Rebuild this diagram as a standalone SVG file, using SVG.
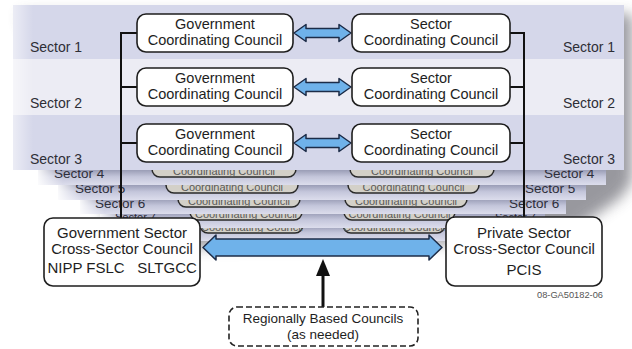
<svg xmlns="http://www.w3.org/2000/svg" width="632" height="349" viewBox="0 0 632 349">
<defs>
<style>
text{font-family:"Liberation Sans",Arial,sans-serif}
.sec{font-size:14px;fill:#2e2e36}
.sec2{font-size:13.5px;fill:#2e2e3a}
.sec7{font-size:11px;fill:#2e2e3a}
.bx{fill:#fff;stroke:#1e1e1e;stroke-width:1.6}
.hb{fill:#d3d0c8;stroke:#2a2a2a;stroke-width:1.5}
.bt{font-size:14.5px;fill:#1e1e1e;text-anchor:middle}
.rt{font-size:13.5px;fill:#1e1e1e;text-anchor:middle}
.ht{font-size:11px;fill:#5a5a5a;text-anchor:middle}
.big{font-size:15px;fill:#1e1e1e;text-anchor:middle}
.arr{fill:#6fb2ea;stroke:#1c2c48;stroke-width:1.5;stroke-linejoin:round}
.ln{fill:none;stroke:#111;stroke-width:2}
.sheet{fill:#d2d4e8}
</style>
<linearGradient id="strip" x1="0" y1="0" x2="0" y2="1">
<stop offset="0" stop-color="#9a9db6"/>
<stop offset="0.45" stop-color="#c4c6db"/>
<stop offset="1" stop-color="#dcddec"/>
</linearGradient>
<linearGradient id="lfade" x1="0" y1="0" x2="1" y2="0">
<stop offset="0" stop-color="#fff" stop-opacity="0.9"/>
<stop offset="1" stop-color="#fff" stop-opacity="0"/>
</linearGradient>
<filter id="blur" x="-20%" y="-20%" width="140%" height="140%"><feGaussianBlur stdDeviation="7"/></filter>
</defs>
<rect width="632" height="349" fill="#fff"/>
<g id="shadow">
<path d="M20,14 L632,14 L632,182 L620,198 L600,212 L580,226 L558,242 L120,248 Z" fill="#55555e" opacity="0.6" filter="url(#blur)"/>
</g>
<g id="stack">
<g id="sheet8">
<rect class="sheet" x="118" y="75" width="407" height="166"/>
<rect x="118" y="226" width="407" height="15" fill="url(#strip)"/>
<rect class="hb" x="200" y="195" width="103" height="38" rx="8"/>
<text class="ht" x="252" y="231">Coordinating Council</text>
<rect class="hb" x="343" y="195" width="102" height="38" rx="8"/>
<text class="ht" x="394" y="231">Coordinating Council</text>
</g>
<g id="sheet7">
<rect class="sheet" x="100" y="61" width="445" height="167"/>
<rect x="100" y="213" width="445" height="15" fill="url(#strip)"/>
<rect x="100" y="61" width="25" height="167" fill="url(#lfade)"/>
<text class="sec7" x="115" y="221">Sector 7</text>
<text class="sec7" x="495" y="221">Sector 7</text>
<rect class="hb" x="190" y="182" width="112" height="38" rx="8"/>
<text class="ht" x="246" y="218">Coordinating Council</text>
<rect class="hb" x="344" y="182" width="111" height="38" rx="8"/>
<text class="ht" x="399.5" y="218">Coordinating Council</text>
</g>
<g id="sheet6">
<rect class="sheet" x="80" y="47" width="486" height="167"/>
<rect x="80" y="199" width="486" height="15" fill="url(#strip)"/>
<rect x="80" y="47" width="25" height="167" fill="url(#lfade)"/>
<text class="sec2" x="95" y="207.5">Sector 6</text>
<text class="sec2" x="509" y="207.5">Sector 6</text>
<rect class="hb" x="178" y="169" width="122" height="38" rx="8"/>
<text class="ht" x="239" y="205">Coordinating Council</text>
<rect class="hb" x="345" y="169" width="122" height="38" rx="8"/>
<text class="ht" x="406" y="205">Coordinating Council</text>
</g>
<g id="sheet5">
<rect class="sheet" x="58" y="33" width="528" height="167"/>
<rect x="58" y="185" width="528" height="15" fill="url(#strip)"/>
<rect x="58" y="33" width="25" height="167" fill="url(#lfade)"/>
<text class="sec2" x="75" y="193">Sector 5</text>
<text class="sec2" x="525" y="193">Sector 5</text>
<rect class="hb" x="166" y="155" width="132" height="38" rx="8"/>
<text class="ht" x="232" y="191">Coordinating Council</text>
<rect class="hb" x="348" y="155" width="131" height="38" rx="8"/>
<text class="ht" x="413.5" y="191">Coordinating Council</text>
</g>
<g id="sheet4">
<rect class="sheet" x="38" y="19" width="568" height="166"/>
<rect x="38" y="170" width="568" height="15" fill="url(#strip)"/>
<rect x="38" y="19" width="25" height="166" fill="url(#lfade)"/>
<text class="sec2" x="54" y="178">Sector 4</text>
<text class="sec2" x="544" y="178">Sector 4</text>
<rect class="hb" x="152" y="139" width="144" height="38" rx="8"/>
<text class="ht" x="224" y="175">Coordinating Council</text>
<rect class="hb" x="350" y="139" width="144" height="38" rx="8"/>
<text class="ht" x="422" y="175">Coordinating Council</text>
</g>
<g id="sheetTop">
<rect x="13" y="5" width="611" height="54" fill="#d5d7ea"/>
<rect x="13" y="59" width="611" height="56" fill="#ececf4"/>
<rect x="13" y="115" width="611" height="55" fill="#d5d7ea"/>
<rect x="13" y="5" width="20" height="165" fill="url(#lfade)" opacity="0.6"/>
<text class="sec" x="30" y="52">Sector 1</text>
<text class="sec" x="30" y="108">Sector 2</text>
<text class="sec" x="30" y="164">Sector 3</text>
<text class="sec" x="563" y="52">Sector 1</text>
<text class="sec" x="563" y="108">Sector 2</text>
<text class="sec" x="563" y="164">Sector 3</text>
</g>
</g>
<g id="connectors">
<path class="ln" d="M137,33 H121 V218 M121,87 H137 M121,143 H137"/>
<path class="ln" d="M510,33 H524 V217 M524,87 H510 M524,143 H510"/>
<path class="arr" d="M294,33 L306,24.5 L306,28.5 L339,28.5 L339,24.5 L351,33 L339,41.5 L339,37.5 L306,37.5 L306,41.5 Z"/>
<path class="arr" d="M294,87 L306,78.5 L306,82.5 L339,82.5 L339,78.5 L351,87 L339,95.5 L339,91.5 L306,91.5 L306,95.5 Z"/>
<path class="arr" d="M294,143 L306,134.5 L306,138.5 L339,138.5 L339,134.5 L351,143 L339,151.5 L339,147.5 L306,147.5 L306,151.5 Z"/>
<path class="arr" d="M203,247.5 L216,235 L216,239 L429,239 L429,235 L442,247.5 L429,260 L429,256 L216,256 L216,260 Z"/>
<line x1="323" y1="307" x2="323" y2="272" stroke="#111" stroke-width="3"/>
<polygon points="323,259 316,276 330,276" fill="#111"/>
</g>
<g id="gcc1"><rect class="bx" x="137" y="14" width="156" height="38" rx="9"/><text class="bt" x="215" y="29">Government</text><text class="bt" x="215" y="45">Coordinating Council</text></g>
<g id="gcc2"><rect class="bx" x="137" y="68" width="156" height="38" rx="9"/><text class="bt" x="215" y="83">Government</text><text class="bt" x="215" y="99">Coordinating Council</text></g>
<g id="gcc3"><rect class="bx" x="137" y="124" width="156" height="38" rx="9"/><text class="bt" x="215" y="139">Government</text><text class="bt" x="215" y="155">Coordinating Council</text></g>
<g id="scc1"><rect class="bx" x="352" y="14" width="158" height="38" rx="9"/><text class="bt" x="431" y="29">Sector</text><text class="bt" x="431" y="45">Coordinating Council</text></g>
<g id="scc2"><rect class="bx" x="352" y="68" width="158" height="38" rx="9"/><text class="bt" x="431" y="83">Sector</text><text class="bt" x="431" y="99">Coordinating Council</text></g>
<g id="scc3"><rect class="bx" x="352" y="124" width="158" height="38" rx="9"/><text class="bt" x="431" y="139">Sector</text><text class="bt" x="431" y="155">Coordinating Council</text></g>
<g id="gscc"><rect class="bx" x="44" y="218" width="156" height="68" rx="9"/><text class="big" x="122" y="237.5">Government Sector</text><text class="big" x="122" y="253.5">Cross-Sector Council</text><text class="big" x="86" y="273">NIPP FSLC</text><text class="big" x="167" y="273">SLTGCC</text></g>
<g id="pscc"><rect class="bx" x="446" y="217" width="156" height="69" rx="9"/><text class="big" x="524" y="238">Private Sector</text><text class="big" x="524" y="254">Cross-Sector Council</text><text class="big" x="524" y="275">PCIS</text></g>
<g id="rbc"><rect x="229" y="307" width="189" height="39" rx="8" fill="#fff" stroke="#222" stroke-width="1.6" stroke-dasharray="6 3"/><text class="rt" x="323" y="323">Regionally Based Councils</text><text class="rt" x="323" y="339">(as needed)</text></g>
<text x="537" y="298" font-size="8.5" fill="#555" textLength="66" lengthAdjust="spacingAndGlyphs">08-GA50182-06</text>
</svg>
